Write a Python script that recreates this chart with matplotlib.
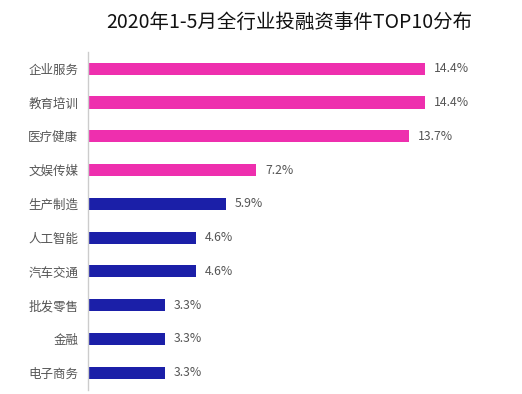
import matplotlib
matplotlib.use("Agg")
import matplotlib.pyplot as plt

plt.rcParams['font.family'] = ['Noto Sans CJK SC', 'DejaVu Sans']

categories = ["企业服务", "教育培训", "医疗健康", "文娱传媒", "生产制造",
              "人工智能", "汽车交通", "批发零售", "金融", "电子商务"]
values = [14.4, 14.4, 13.7, 7.2, 5.9, 4.6, 4.6, 3.3, 3.3, 3.3]
value_labels = ["14.4%", "14.4%", "13.7%", "7.2%", "5.9%", "4.6%", "4.6%", "3.3%", "3.3%", "3.3%"]
title = "2020年1-5月全行业投融资事件TOP10分布"

W, H = 522, 394
fig = plt.figure(figsize=(W / 100, H / 100), dpi=100)
fig.patch.set_facecolor("white")

left, right, top, bottom = 88, 508, 51.8, 389.6
ax = fig.add_axes([left / W, 1 - bottom / H, (right - left) / W, (bottom - top) / H])
ax.set_facecolor("none")

colors = ["#EE2FAE"] * 4 + ["#1B1FA8"] * 6
y = list(range(len(categories)))
ax.barh(y, values, height=0.36, color=colors, zorder=2)
ax.set_xlim(0, (right - left) / 23.4)
ax.set_ylim(len(categories) - 0.5, -0.5)

for yi, v, lab in zip(y, values, value_labels):
    ax.text(v + 0.38, yi, lab, va="center", ha="left", fontsize=8.8, color="#555555")

ax.set_yticks(y)
ax.set_yticklabels(categories, fontsize=9, color="#555555")
ax.tick_params(axis="y", length=0, pad=7)
ax.set_xticks([])
for s in ["top", "right", "bottom"]:
    ax.spines[s].set_visible(False)
ax.spines["left"].set_color("#cccccc")
ax.spines["left"].set_linewidth(1)

fig.text(289 / W, 1 - 22 / H, title, fontsize=14, color="#111111",
         ha="center", va="center", fontweight="medium")

fig.savefig("out.png", dpi=100, facecolor="white")
